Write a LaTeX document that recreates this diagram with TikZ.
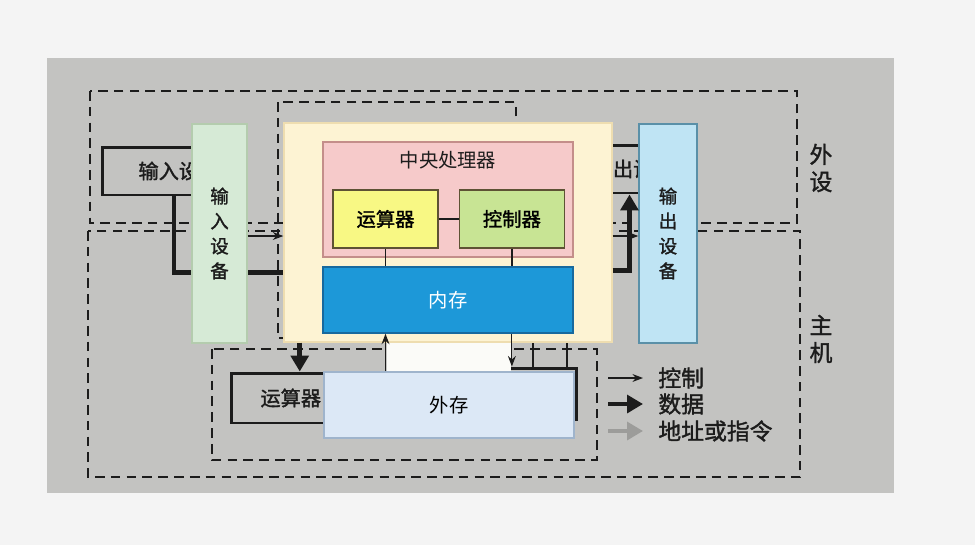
\documentclass[tikz,border=0pt]{standalone}
\usepackage{fontspec}
\setmainfont{Noto Sans CJK SC}
\newfontfamily\bookfont[FakeBold=1.5]{Noto Sans CJK SC}
\usetikzlibrary{arrows.meta, positioning, calc}
\pgfdeclarelayer{background}
\pgfsetlayers{background,main}

\definecolor{ink}{HTML}{1C1C1C}
\definecolor{pagebg}{HTML}{F4F4F4}
\definecolor{photo}{HTML}{C3C3C1}
\definecolor{ingreenfill}{HTML}{D6EAD6}
\definecolor{ingreendraw}{HTML}{B4CCAE}
\definecolor{hostfill}{HTML}{FDF3D3}
\definecolor{hostdraw}{HTML}{EEDDB0}
\definecolor{cpufill}{HTML}{F6CACA}
\definecolor{cpudraw}{HTML}{C48E8A}
\definecolor{alufill}{HTML}{F8F884}
\definecolor{cufill}{HTML}{C8E494}
\definecolor{unitdraw}{HTML}{5E5234}
\definecolor{memfill}{HTML}{1D98D8}
\definecolor{memdraw}{HTML}{17699E}
\definecolor{extfill}{HTML}{DCE8F6}
\definecolor{extdraw}{HTML}{9FB4CC}
\definecolor{outfill}{HTML}{BFE4F4}
\definecolor{outdraw}{HTML}{5A90A8}
\definecolor{patch}{HTML}{FBFBF8}
\definecolor{addrgray}{HTML}{9C9C9A}

\begin{document}
\begin{tikzpicture}[
        x=0.02cm, y=-0.02cm,
        dashbox/.style={draw=ink, line width=1.3pt, dash pattern=on 5.5pt off 3.5pt},
        bookbox/.style={rectangle, draw=ink, line width=1.7pt, inner ysep=0pt, text=ink, font=\bookfont\fontsize{11.5}{13}\selectfont},
        panel/.style={rectangle, draw, line width=0.8pt, inner sep=0pt, align=center, font=\fontsize{11}{13}\selectfont},
        vtext/.style={font=\bookfont\fontsize{10.5}{14.2}\selectfont, text=ink},
        link/.style={draw=ink, line width=0.8pt},
        ctrl/.style={-{Stealth[length=6pt,width=4.5pt]}, line width=0.7pt, draw=ink},
        bus/.style={line width=2.8pt, draw=ink},
        data/.style={bus, -{Triangle[length=9pt,width=10pt]}},
        addr/.style={data, draw=addrgray},
        legend/.style={anchor=west, inner sep=0pt, text=ink, font=\bookfont\fontsize{13}{15}\selectfont}
    ]
        \useasboundingbox (0,0) rectangle (975,545);

        % the printed page
        \node[bookbox, anchor=west, minimum width=2.52cm, minimum height=0.96cm, text width=1.3cm, inner xsep=0.72cm, align=left] (inbox) at (101,171) {输入设};
        \node[bookbox, anchor=west, minimum width=2.4cm, minimum height=1.0cm, text width=1.25cm, inner xsep=0.58cm, align=left] (alu2) at (230,398) {运算器};
        \node[bookbox, anchor=west, minimum width=1.72cm, minimum height=0.96cm, text width=0.86cm, inner xsep=0.36cm, align=left] (outbox) at (590,169) {出设};
        \node[bookbox, minimum width=3.54cm, minimum height=1.04cm] (stor) at (488.5,394) {};

        % coloured boxes laid over it
        \node[panel, fill=ingreenfill, draw=ingreendraw, minimum width=1.1cm, minimum height=4.38cm, vtext] (ingreen) at (219.5,233.5) {输\\入\\设\\备};
        \node[panel, fill=hostfill, draw=hostdraw, minimum width=6.56cm, minimum height=4.38cm] (host) at (448,232.5) {};
        \node[panel, fill=cpufill, draw=cpudraw, minimum width=5.0cm, minimum height=2.3cm] (cpu) at (448,199.5) {};
        \node[below=0.2cm of cpu.north, inner sep=0pt, text=ink, font=\fontsize{11}{13}\selectfont] (cputitle) {中央处理器};
        \node[panel, fill=alufill, draw=unitdraw, minimum width=2.1cm, minimum height=1.16cm, font=\bookfont\fontsize{11}{13}\selectfont] (alu) at (385.5,219) {运算器};
        \node[panel, fill=cufill, draw=unitdraw, minimum width=2.1cm, minimum height=1.16cm, font=\bookfont\fontsize{11}{13}\selectfont, right=0.4cm of alu] (cu) {控制器};
        \node[panel, fill=memfill, draw=memdraw, minimum width=5.0cm, minimum height=1.32cm, text=white] (mem) at (448,300) {内存};
        \fill[patch] (387,343) rectangle (511,372);
        \node[panel, fill=extfill, draw=extdraw, minimum width=5.0cm, minimum height=1.32cm] (ext) at (449,405) {外存};
        \node[panel, fill=outfill, draw=outdraw, minimum width=1.16cm, minimum height=4.38cm, vtext] (outblue) at (668,233.5) {输\\出\\设\\备};

        \draw[link] (alu) -- (cu);
        \draw[link] (alu.south) -- (alu.south |- mem.north);
        \draw[link] (cu.south) -- (cu.south |- mem.north);
        \draw[ctrl] (ext.north -| alu.south) -- (mem.south -| alu.south);
        \draw[ctrl] (mem.south -| cu.south) -- (stor.north -| cu.south);

        \coordinate (s1) at ($(stor.north)+(44.5,0)$);
        \coordinate (s2) at ($(stor.north)+(78.5,0)$);
        \draw[link, line width=1.2pt] (s1) -- (s1 |- host.south);
        \draw[link, line width=1.2pt] (s2) -- (s2 |- host.south);

        \draw[ctrl] ($(ingreen.east)+(0,2.5)$) -- ($(host.west)+(0,3.5)$);
        \draw[ctrl] ($(host.east)+(0,3.5)$) -- ($(outblue.west)+(0,2.5)$);
        \draw[data] ($(host.east)+(0,38)$) -| ($(outbox.south)+(-5,0)$);
        \coordinate (a2in) at ($(alu2.north)+(8,0)$);
        \draw[data] (host.south -| a2in) -- (a2in);

        % legend and side labels
        \node[legend] (lgctrl) at (658,378) {控制};
        \node[legend] (lgdata) at (658,404) {数据};
        \node[legend] (lgaddr) at (658,431) {地址或指令};
        \draw[ctrl, shorten >=0.3cm] ($(lgctrl.west)+(-50,0)$) -- (lgctrl.west);
        \draw[data, shorten >=0.3cm] ($(lgdata.west)+(-50,0)$) -- (lgdata.west);
        \draw[addr, shorten >=0.3cm] ($(lgaddr.west)+(-50,0)$) -- (lgaddr.west);

        \node[align=center, text=ink, font=\bookfont\fontsize{13}{15.5}\selectfont] (periph) at (821,168) {外\\设};
        \node[align=center, text=ink, font=\bookfont\fontsize{13}{15.5}\selectfont] (mainlbl) at (821,339) {主\\机};

        \begin{pgfonlayer}{background}
            \fill[pagebg] (0,0) rectangle (975,545);
            \fill[photo] (47,58) rectangle (894,493);
            \draw[dashbox] (90,91) rectangle (797,223);
            \draw[dashbox] (88,231) rectangle (800,477);
            \draw[dashbox] (278,102) rectangle (516,338);
            \draw[dashbox] (212,349) rectangle (597,460);
            \draw[bus] ($(inbox.south)+(3,0)$) |- ($(host.west)+(0,40)$);
        \end{pgfonlayer}
    \end{tikzpicture}
\end{document}
